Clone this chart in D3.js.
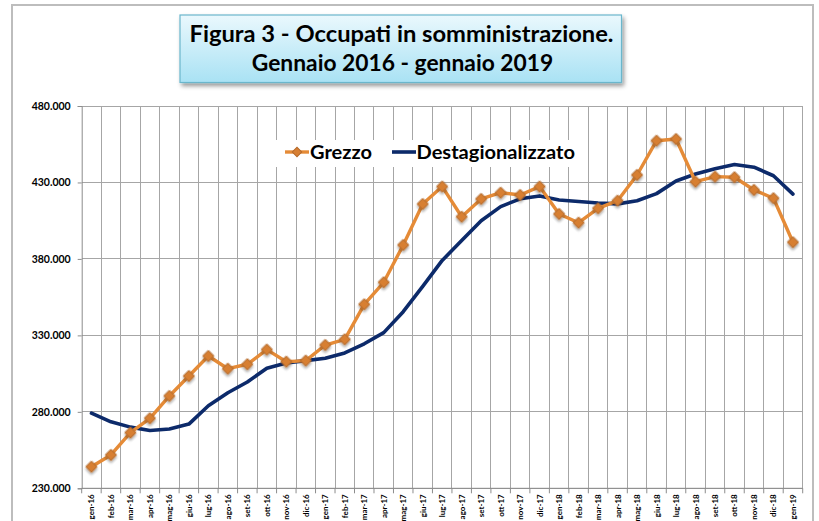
<!DOCTYPE html>
<html>
<head>
<meta charset="utf-8">
<script src="https://cdn.jsdelivr.net/npm/d3@7"></script>
<style>
  html, body { margin: 0; padding: 0; background: #fff; }
  svg { display: block; }
  text { font-family: Lato, "Open Sans", sans-serif; }
</style>
</head>
<body>
<svg id="chart" width="819" height="521"></svg>
<script>
const months = ["gen-16","feb-16","mar-16","apr-16","mag-16","giu-16","lug-16","ago-16","set-16","ott-16","nov-16","dic-16",
  "gen-17","feb-17","mar-17","apr-17","mag-17","giu-17","lug-17","ago-17","set-17","ott-17","nov-17","dic-17",
  "gen-18","feb-18","mar-18","apr-18","mag-18","giu-18","lug-18","ago-18","set-18","ott-18","nov-18","dic-18","gen-19"];
const grezzo = [244100,251800,266400,275800,290400,303400,316500,308200,311100,320700,312800,313500,
  323700,327400,350300,364700,389100,415900,427300,407600,419200,423300,421800,427300,
  409400,403700,413100,418100,434900,457300,458400,430500,433800,433400,425100,419700,390900];
const destag = [279100,273500,270000,267800,268800,272000,284000,292500,299500,308500,312000,313500,
  315000,318500,324500,331800,345500,362000,379000,392000,405000,414200,419300,421200,
  418500,417500,416600,416000,418000,422700,431000,435500,439000,441700,440000,434400,422400];
const yTicks = [230000,280000,330000,380000,430000,480000];
const seriesNames = ["Grezzo","Destagionalizzato"];
const titleLines = ["Figura 3 - Occupati in somministrazione.","Gennaio 2016 - gennaio 2019"];

const svg = d3.select("#chart");
const defs = svg.append("defs");

const grad = defs.append("linearGradient").attr("id","tg").attr("x1",0).attr("y1",0).attr("x2",0).attr("y2",1);
grad.append("stop").attr("offset","0%").attr("stop-color","#EAF8FD");
grad.append("stop").attr("offset","100%").attr("stop-color","#A9E2F4");

const sh = defs.append("filter").attr("id","sh").attr("x","-50%").attr("y","-50%").attr("width","200%").attr("height","200%");
sh.append("feDropShadow").attr("dx",1.5).attr("dy",1.5).attr("stdDeviation",1.2).attr("flood-color","#000").attr("flood-opacity",0.35);
const bsh = defs.append("filter").attr("id","bsh").attr("x","-10%").attr("y","-20%").attr("width","130%").attr("height","160%");
bsh.append("feDropShadow").attr("dx",2).attr("dy",3).attr("stdDeviation",2).attr("flood-color","#000").attr("flood-opacity",0.4);

// outer frame
svg.append("rect").attr("x",12).attr("y",5).attr("width",801).attr("height",540)
  .attr("fill","#fff").attr("stroke","#BDBDBD").attr("stroke-width",2);

const L = 81.7, R = 802.7, T = 106, B = 488.3;
const x = d3.scaleBand().domain(months).range([L, R]).padding(0);
const y = d3.scaleLinear().domain([230000, 480000]).range([B, T]);
const cx = d => x(d) + x.bandwidth()/2;

// gridlines
const grid = svg.append("g").attr("stroke","#A6A6A6").attr("stroke-width",1).attr("shape-rendering","crispEdges");
grid.selectAll(".h").data(yTicks).join("line")
  .attr("x1",L).attr("x2",R).attr("y1",d=>y(d)).attr("y2",d=>y(d));
const vb = months.map(m => x(m)).concat([R]);
grid.selectAll(".v").data(vb.slice(1)).join("line")
  .attr("x1",d=>d).attr("x2",d=>d).attr("y1",T).attr("y2",B);

// axes
const fmt = v => d3.format(",")(v).replace(/,/g,".");
const yAxis = svg.append("g").attr("transform",`translate(${L},0)`)
  .call(d3.axisLeft(y).tickValues(yTicks).tickSize(4).tickPadding(7).tickFormat(fmt));
yAxis.select(".domain").attr("stroke","#8C8C8C");
yAxis.selectAll(".tick line").attr("stroke","#8C8C8C");
yAxis.selectAll("text").attr("font-size","10.5px").attr("font-weight","bold").attr("fill","#000");

const xAxis = svg.append("g").attr("transform",`translate(0,${B})`);
xAxis.append("line").attr("x1",L).attr("x2",R).attr("stroke","#8C8C8C");
xAxis.selectAll(".tk").data(vb).join("line").attr("x1",d=>d).attr("x2",d=>d).attr("y1",0).attr("y2",5).attr("stroke","#8C8C8C");
xAxis.selectAll(".lbl").data(months).join("text")
  .attr("transform", d => `translate(${cx(d)+3},6) rotate(-90)`)
  .attr("text-anchor","end").attr("font-size","8px").attr("font-weight","bold").attr("fill","#000")
  .text(d=>d);

// lines
const lineG = d3.line().x((d,i)=>cx(months[i])).y(d=>y(d));
svg.append("path").datum(destag).attr("d",lineG).attr("fill","none")
  .attr("stroke","#0C2A6A").attr("stroke-width",3.6).attr("stroke-linejoin","round").attr("stroke-linecap","round");
svg.append("path").datum(grezzo).attr("d",lineG).attr("fill","none")
  .attr("stroke","#E58B37").attr("stroke-width",3.4).attr("stroke-linejoin","round");

const diamond = d3.symbol().type(d3.symbolDiamond2 || d3.symbolSquare).size(70);
svg.append("g").selectAll("path").data(grezzo).join("path")
  .attr("transform",(d,i)=>`translate(${cx(months[i])},${y(d)}) rotate(45)`)
  .attr("d", d3.symbol().type(d3.symbolSquare).size(62))
  .attr("fill","#D77F33").attr("stroke","#B56A2C").attr("stroke-width",1).attr("filter","url(#sh)");

// legend
const lg = svg.append("g");
lg.append("rect").attr("x",273).attr("y",140).attr("width",311).attr("height",27).attr("fill","#fff");
lg.append("line").attr("x1",285).attr("x2",309).attr("y1",152).attr("y2",152).attr("stroke","#E58B37").attr("stroke-width",3.4);
lg.append("path").attr("transform","translate(297,152) rotate(45)").attr("d", d3.symbol().type(d3.symbolSquare).size(45))
  .attr("fill","#D77F33").attr("stroke","#B56A2C").attr("stroke-width",1);
lg.append("text").attr("x",310).attr("y",158.5).attr("font-size","19px").attr("font-weight","bold")
  .attr("textLength",62).attr("lengthAdjust","spacingAndGlyphs").text(seriesNames[0]);
lg.append("line").attr("x1",392).attr("x2",416).attr("y1",152).attr("y2",152).attr("stroke","#0C2A6A").attr("stroke-width",3.6);
lg.append("text").attr("x",416.5).attr("y",158.5).attr("font-size","19px").attr("font-weight","bold")
  .attr("textLength",158.5).attr("lengthAdjust","spacingAndGlyphs").text(seriesNames[1]);

// title box
const tg = svg.append("g");
tg.append("rect").attr("x",180).attr("y",15).attr("width",441.5).attr("height",67.5)
  .attr("fill","url(#tg)").attr("stroke","#6BB6CC").attr("stroke-width",1.2).attr("filter","url(#bsh)");
tg.append("text").attr("x",401.5).attr("y",41.5).attr("text-anchor","middle").attr("font-size","23px").attr("font-weight","bold")
  .attr("textLength",424).attr("lengthAdjust","spacingAndGlyphs").text(titleLines[0]);
tg.append("text").attr("x",402.5).attr("y",71).attr("text-anchor","middle").attr("font-size","23px").attr("font-weight","bold")
  .attr("textLength",301.5).attr("lengthAdjust","spacingAndGlyphs").text(titleLines[1]);
</script>
</body>
</html>
